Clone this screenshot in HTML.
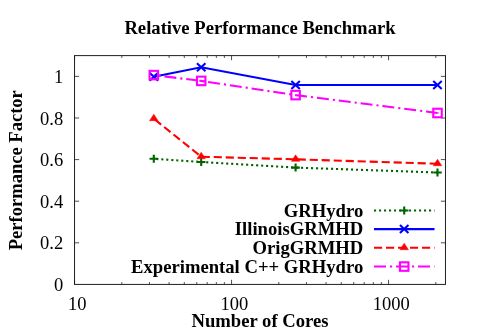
<!DOCTYPE html>
<html><head><meta charset="utf-8"><title>Relative Performance Benchmark</title>
<style>
html,body{margin:0;padding:0;background:#fff;}
body{width:479px;height:335px;overflow:hidden;}
svg{display:block;}
svg text{font-family:"Liberation Serif",serif;fill:#000;}
</style></head><body>
<svg width="479" height="335" viewBox="0 0 479 335">
<rect width="479" height="335" fill="#fff"/>
<defs><filter id="soft" x="0" y="0" width="479" height="335" filterUnits="userSpaceOnUse" color-interpolation-filters="sRGB"><feGaussianBlur stdDeviation="0.38"/></filter></defs>
<g filter="url(#soft)">
<g stroke="#141414" fill="none">
<rect x="74.55" y="55.62" width="370.90" height="228.78" stroke-width="0.95"/>
<path d="M74.55 242.80h4.6M445.45 242.80h-4.6M74.55 201.20h4.6M445.45 201.20h-4.6M74.55 159.60h4.6M445.45 159.60h-4.6M74.55 118.00h4.6M445.45 118.00h-4.6M74.55 76.40h4.6M445.45 76.40h-4.6M74.55 284.4v-4.6M74.55 55.62v4.6M121.81 284.4v-2.3M121.81 55.62v2.3M149.46 284.4v-2.3M149.46 55.62v2.3M169.07 284.4v-2.3M169.07 55.62v2.3M184.29 284.4v-2.3M184.29 55.62v2.3M196.72 284.4v-2.3M196.72 55.62v2.3M207.23 284.4v-2.3M207.23 55.62v2.3M216.34 284.4v-2.3M216.34 55.62v2.3M224.37 284.4v-2.3M224.37 55.62v2.3M231.55 284.4v-4.6M231.55 55.62v4.6M278.81 284.4v-2.3M278.81 55.62v2.3M306.46 284.4v-2.3M306.46 55.62v2.3M326.07 284.4v-2.3M326.07 55.62v2.3M341.29 284.4v-2.3M341.29 55.62v2.3M353.72 284.4v-2.3M353.72 55.62v2.3M364.23 284.4v-2.3M364.23 55.62v2.3M373.34 284.4v-2.3M373.34 55.62v2.3M381.37 284.4v-2.3M381.37 55.62v2.3M388.55 284.4v-4.6M388.55 55.62v4.6M435.81 284.4v-2.3M435.81 55.62v2.3" stroke-width="0.75"/>
</g>
<polyline points="153.80,158.80 201.20,162.00 295.60,167.60 437.50,172.50" fill="none" stroke="#006400" stroke-width="2.1" stroke-dasharray="2.1,2.9" stroke-dashoffset="2.5"/>
<path d="M149.55 158.80h8.5M153.80 154.80v8.0" stroke="#006400" stroke-width="2.1" fill="none"/>
<path d="M196.95 162.00h8.5M201.20 158.00v8.0" stroke="#006400" stroke-width="2.1" fill="none"/>
<path d="M291.35 167.60h8.5M295.60 163.60v8.0" stroke="#006400" stroke-width="2.1" fill="none"/>
<path d="M433.25 172.50h8.5M437.50 168.50v8.0" stroke="#006400" stroke-width="2.1" fill="none"/>
<polyline points="153.80,76.80 201.20,67.20 295.60,85.05 437.50,85.05" fill="none" stroke="#0000ff" stroke-width="2.1"/>
<path d="M149.55 72.80l8.5 8.0M149.55 80.80l8.5 -8.0" stroke="#0000ff" stroke-width="2.1" fill="none"/>
<path d="M196.95 63.20l8.5 8.0M196.95 71.20l8.5 -8.0" stroke="#0000ff" stroke-width="2.1" fill="none"/>
<path d="M291.35 81.05l8.5 8.0M291.35 89.05l8.5 -8.0" stroke="#0000ff" stroke-width="2.1" fill="none"/>
<path d="M433.25 81.05l8.5 8.0M433.25 89.05l8.5 -8.0" stroke="#0000ff" stroke-width="2.1" fill="none"/>
<polyline points="153.80,118.65 201.20,156.70 295.60,159.30 437.50,163.70" fill="none" stroke="#ff0000" stroke-width="2.1" stroke-dasharray="8.15,3.85" stroke-dashoffset="10.7"/>
<path d="M153.80 114.17l4.25 6.48h-8.5z" fill="#ff0000" stroke="#ff0000" stroke-width="0.5"/>
<path d="M201.20 152.22l4.25 6.48h-8.5z" fill="#ff0000" stroke="#ff0000" stroke-width="0.5"/>
<path d="M295.60 154.82l4.25 6.48h-8.5z" fill="#ff0000" stroke="#ff0000" stroke-width="0.5"/>
<path d="M437.50 159.22l4.25 6.48h-8.5z" fill="#ff0000" stroke="#ff0000" stroke-width="0.5"/>
<polyline points="153.80,75.10 201.20,80.90 295.60,95.10 437.50,113.00" fill="none" stroke="#ff00ff" stroke-width="2.1" stroke-dasharray="12,4,2.1,3.9" stroke-dashoffset="11.3"/>
<path d="M199.3 80.67L201.2 80.9L205 81.47M437.5 113.0l0.9 0.11" fill="none" stroke="#ff00ff" stroke-width="2.1"/>
<rect x="149.55" y="70.85" width="8.5" height="8.5" stroke="#ff00ff" stroke-width="2.1" fill="none"/>
<rect x="196.95" y="76.65" width="8.5" height="8.5" stroke="#ff00ff" stroke-width="2.1" fill="none"/>
<rect x="291.35" y="90.85" width="8.5" height="8.5" stroke="#ff00ff" stroke-width="2.1" fill="none"/>
<rect x="433.25" y="108.75" width="8.5" height="8.5" stroke="#ff00ff" stroke-width="2.1" fill="none"/>
<path d="M374 210.5H434.5" fill="none" stroke="#006400" stroke-width="2.1" stroke-dasharray="2.1,2.9" stroke-dashoffset="0"/>
<path d="M399.95 210.50h8.5M404.20 206.50v8.0" stroke="#006400" stroke-width="2.1" fill="none"/>
<path d="M374 229.1H434.5" fill="none" stroke="#0000ff" stroke-width="2.1"/>
<path d="M399.95 225.10l8.5 8.0M399.95 233.10l8.5 -8.0" stroke="#0000ff" stroke-width="2.1" fill="none"/>
<path d="M374 247.7H434.5" fill="none" stroke="#ff0000" stroke-width="2.1" stroke-dasharray="8.15,3.85" stroke-dashoffset="0"/>
<path d="M404.20 243.22l4.25 6.48h-8.5z" fill="#ff0000" stroke="#ff0000" stroke-width="0.5"/>
<path d="M374 266.55H434.5" fill="none" stroke="#ff00ff" stroke-width="2.1" stroke-dasharray="12,4,2.1,3.9" stroke-dashoffset="0"/>
<rect x="399.95" y="262.30" width="8.5" height="8.5" stroke="#ff00ff" stroke-width="2.1" fill="none"/>
<g id="txt">
<text transform="translate(363.2,216.85) scale(1.042,1)" text-anchor="end" font-weight="bold" font-size="17.9" id="leg_g">GRHydro</text>
<text transform="translate(363.2,235.45) scale(1.042,1)" text-anchor="end" font-weight="bold" font-size="17.9" id="leg_b">IllinoisGRMHD</text>
<text transform="translate(363.2,254.05) scale(1.042,1)" text-anchor="end" font-weight="bold" font-size="17.9" id="leg_r">OrigGRMHD</text>
<text transform="translate(363.2,272.90) scale(1.042,1)" text-anchor="end" font-weight="bold" font-size="17.9" id="leg_m">Experimental C++ GRHydro</text>
<text transform="translate(260,33.8) scale(1.042,1)" text-anchor="middle" font-weight="bold" font-size="17.9" id="title">Relative Performance Benchmark</text>
<text transform="translate(260.0,327.3) scale(1.042,1)" text-anchor="middle" font-weight="bold" font-size="17.9" id="xlabel">Number of Cores</text>
<text transform="translate(21.6,170.2) rotate(-90) scale(0.992,1)" text-anchor="middle" font-weight="bold" font-size="18.7" id="ylabel">Performance Factor</text>
<text transform="translate(63.2,290.90) scale(1.0,1)" text-anchor="end" font-size="18.5" id="yt_0">0</text>
<text transform="translate(63.2,249.30) scale(1.0,1)" text-anchor="end" font-size="18.5" id="yt_0.2">0.2</text>
<text transform="translate(63.2,207.70) scale(1.0,1)" text-anchor="end" font-size="18.5" id="yt_0.4">0.4</text>
<text transform="translate(63.2,166.10) scale(1.0,1)" text-anchor="end" font-size="18.5" id="yt_0.6">0.6</text>
<text transform="translate(63.2,124.50) scale(1.0,1)" text-anchor="end" font-size="18.5" id="yt_0.8">0.8</text>
<text transform="translate(63.2,82.90) scale(1.0,1)" text-anchor="end" font-size="18.5" id="yt_1">1</text>
<text transform="translate(77.25,309.5) scale(1.0,1)" text-anchor="middle" font-size="18.5" id="xt_10">10</text>
<text transform="translate(234.25,309.5) scale(1.0,1)" text-anchor="middle" font-size="18.5" id="xt_100">100</text>
<text transform="translate(391.25,309.5) scale(1.0,1)" text-anchor="middle" font-size="18.5" id="xt_1000">1000</text>
</g>
</g>
</svg>
</body></html>
